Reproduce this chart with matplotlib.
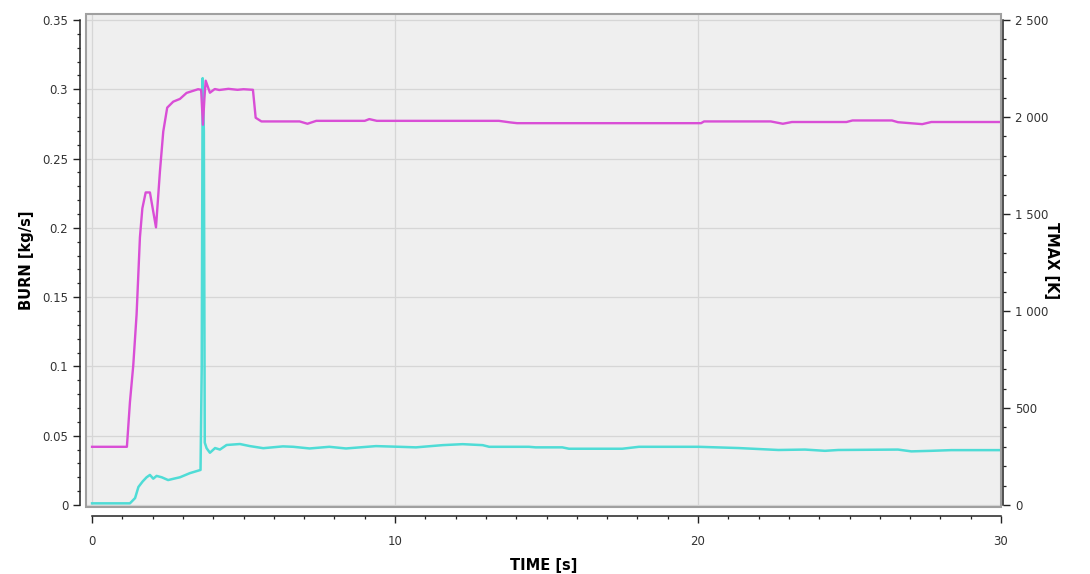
import matplotlib.pyplot as plt
from matplotlib.patches import Rectangle
from matplotlib.ticker import MultipleLocator, FuncFormatter

# ---- data ----
t_burn = [0, 1.25, 1.42, 1.53, 1.67, 1.8, 1.91, 2.02, 2.13, 2.3, 2.51, 2.7, 2.9,
          3.23, 3.58, 3.62, 3.65, 3.69, 3.72, 3.78, 3.89, 4.06, 4.22, 4.44, 4.88,
          5.21, 5.65, 6.3, 6.64, 7.18, 7.83, 8.38, 9.37, 10.14, 10.69, 11.57,
          12.23, 12.89, 13.11, 14.42, 14.64, 15.52, 15.74, 17.5, 18.05, 20.02,
          21.34, 22.65, 23.53, 24.19, 24.63, 26.6, 27.04, 27.7, 28.36, 30]
burn = [0.0012, 0.0012, 0.005, 0.013, 0.017, 0.020, 0.0217, 0.019, 0.021, 0.020,
        0.018, 0.019, 0.020, 0.023, 0.0253, 0.10, 0.308, 0.27, 0.045, 0.041,
        0.0377, 0.0411, 0.040, 0.0433, 0.044, 0.0425, 0.041, 0.0423, 0.042,
        0.0408, 0.042, 0.0408, 0.0425, 0.042, 0.0416, 0.0432, 0.0439, 0.0432,
        0.042, 0.042, 0.0416, 0.0416, 0.0406, 0.0406, 0.042, 0.042, 0.0411,
        0.0397, 0.040, 0.0391, 0.0397, 0.040, 0.0387, 0.0391, 0.0396, 0.0396]

t_tmax = [0, 1.15, 1.25, 1.36, 1.47, 1.58, 1.66, 1.77, 1.91, 2.11, 2.24, 2.35,
          2.48, 2.68, 2.9, 3.12, 3.5, 3.6, 3.66, 3.71, 3.75, 3.89, 4.05, 4.2,
          4.5, 4.8, 5.0, 5.31, 5.4, 5.59, 6.85, 7.11, 7.4, 9.0, 9.15, 9.4,
          13.43, 13.8, 14.03, 18.4, 20.1, 20.2, 22.4, 22.8, 23.1, 24.9, 25.1,
          26.4, 26.6, 27.4, 27.7, 30]
tmax = [300, 300, 530, 720, 983, 1380, 1529, 1611, 1611, 1431, 1719, 1925,
        2048, 2079, 2093, 2124, 2143, 2140, 1960, 2100, 2187, 2125, 2144, 2139,
        2145, 2140, 2143, 2140, 1996, 1977, 1977, 1965, 1980, 1980, 1989, 1980,
        1980, 1972, 1968, 1968, 1968, 1977, 1977, 1965, 1974, 1974, 1982,
        1982, 1973, 1963, 1974, 1974]

x_ticks = [0, 10, 20, 30]

# ---- figure ----
fig = plt.figure(figsize=(10.9, 5.74), dpi=100)
ax = fig.add_axes([86 / 1090, 1 - 507 / 574, (1001 - 86) / 1090, (507 - 14) / 574])
ax.set_facecolor('#efefef')
ax2 = ax.twinx()

y_lo, y_hi = -0.00144, 0.3543
ax.set_xlim(-0.2, 30)
ax.set_ylim(y_lo, y_hi)
ax2.set_ylim(y_lo * 2500 / 0.35, y_hi * 2500 / 0.35)

# TMAX drawn on the shared scale (0.35 <-> 2500 K)
ax.plot(t_tmax, [v * 0.35 / 2500 for v in tmax], color='#d94ed6', lw=1.7, zorder=3)
ax.plot(t_burn, burn, color='#4fdcd6', lw=1.8, zorder=2)

# grid
ax.set_axisbelow(True)
ax.yaxis.grid(True, color='#d6d6d6', lw=0.9)
ax.xaxis.grid(True, color='#d6d6d6', lw=0.9)

# frame box
ax.add_patch(Rectangle((0, 0), 1, 1, transform=ax.transAxes, fill=False,
                       edgecolor='#a0a0a0', lw=1.5, clip_on=False, zorder=4))

for a in (ax, ax2):
    for s in a.spines.values():
        s.set_visible(False)

ax.spines['left'].set_visible(True)
ax.spines['left'].set_position(('outward', 4.3))
ax.spines['left'].set_bounds(0, 0.35)
ax.spines['bottom'].set_visible(True)
ax.spines['bottom'].set_position(('outward', 6.5))
ax.spines['bottom'].set_bounds(0, 30)
ax2.spines['right'].set_visible(True)
ax2.spines['right'].set_position(('outward', 1.5))
ax2.spines['right'].set_bounds(0, 2500)
for s in (ax.spines['left'], ax.spines['bottom'], ax2.spines['right']):
    s.set_color('#222222')
    s.set_linewidth(1.1)

ax.set_xticks(x_ticks)
ax.xaxis.set_minor_locator(MultipleLocator(1))
ax.yaxis.set_major_locator(MultipleLocator(0.05))
ax.yaxis.set_minor_locator(MultipleLocator(0.01))
ax.yaxis.set_major_formatter(FuncFormatter(lambda v, p: '%g' % round(v, 3)))
ax2.yaxis.set_major_locator(MultipleLocator(500))
ax2.yaxis.set_minor_locator(MultipleLocator(100))
ax2.yaxis.set_major_formatter(FuncFormatter(lambda v, p: '{:,.0f}'.format(v).replace(',', ' ')))

for a in (ax, ax2):
    a.tick_params(which='major', length=5, width=1, labelsize=8.5,
                  labelcolor='#333333', color='#222222')
    a.tick_params(which='minor', length=2.5, width=0.9, color='#222222')
ax.tick_params(axis='x', which='major', pad=9)

ax.set_xlabel('TIME [s]', fontsize=10.5, fontweight='bold', labelpad=7)
ax.set_ylabel('BURN [kg/s]', fontsize=10.5, fontweight='bold', labelpad=6)
ax2.set_ylabel('TMAX [K]', fontsize=10.5, fontweight='bold', rotation=270, labelpad=8)

plt.savefig('out.png', dpi=100, facecolor='white')
